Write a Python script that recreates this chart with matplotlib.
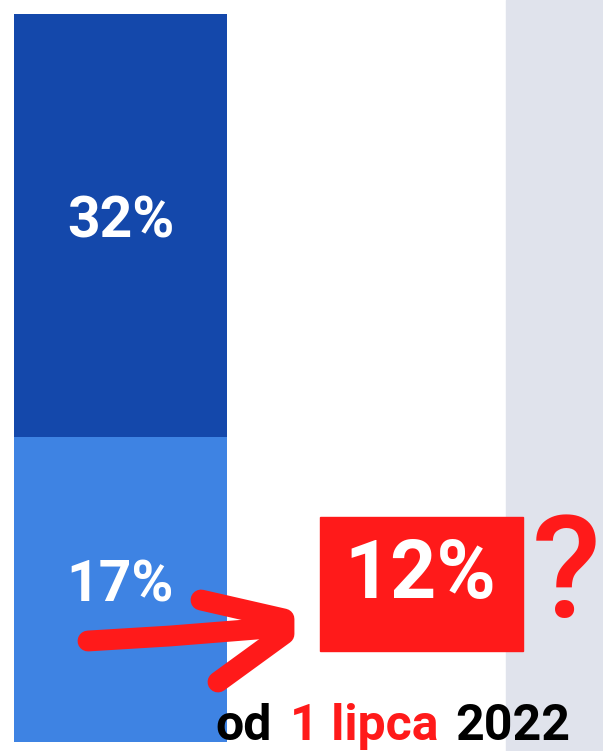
import matplotlib.pyplot as plt
from matplotlib.patches import Rectangle

# bar segments (bottom -> top), heights
segment_heights = [30.5, 42.3]
segment_labels = ['17%', '32%']
segment_colors = ['#3E83E3', '#1448AB']
category = [0]

new_rate = '12%'
caption_parts = ['od', '1 lipca', '2022']

RED = '#FF1A1A'
plt.rcParams['font.family'] = ['Roboto', 'DejaVu Sans']

fig = plt.figure(figsize=(6.03, 7.51), dpi=100)

# bar axes: 1 category unit = 213 px, 1 value unit = 10 px
ax = fig.add_axes([0, 0, 1, 1])
ax.set_xlim(-120.5 / 213, -120.5 / 213 + 603 / 213)
ax.set_ylim(-0.9, -0.9 + 75.1)
ax.axis('off')

# grey neighbour column cut by the right edge
ax.axvspan(1.812, 2.4, color='#E0E3EC', zorder=0)

bottom = 0
for h, lab, col in zip(segment_heights, segment_labels, segment_colors):
    ax.bar(category, [h], bottom=bottom, width=1.0, color=col, zorder=2)
    ax.text(category[0], bottom + h / 2 + 0.3, lab, ha='center', va='center',
            color='white', fontsize=41, fontweight='bold', zorder=3)
    bottom += h

# overlay in pixel coords for the annotations
ov = fig.add_axes([0, 0, 1, 1], zorder=5)
ov.set_xlim(0, 603)
ov.set_ylim(751, 0)
ov.axis('off')
ov.patch.set_alpha(0)

ov.add_patch(Rectangle((320, 517), 203, 134, color=RED, zorder=2))
ov.text(420, 576, new_rate, ha='center', va='center', color='white',
        fontsize=58, fontweight='bold', zorder=3)
ov.text(566, 578, '?', ha='center', va='center', color=RED,
        fontsize=102, fontweight='medium', zorder=3)

# hand drawn arrow
ov.plot([88, 170, 245, 282], [641, 636, 630, 627], color=RED, lw=15,
        solid_capstyle='round', solid_joinstyle='round', zorder=4)
ov.plot([201, 284, 284, 218], [600, 619, 634, 682], color=RED, lw=15,
        solid_capstyle='round', solid_joinstyle='round', zorder=4)

# caption
ov.text(215, 740, caption_parts[0], ha='left', va='baseline', color='black',
        fontsize=36, fontweight='bold', zorder=4)
ov.text(290, 740, caption_parts[1], ha='left', va='baseline', color=RED,
        fontsize=36, fontweight='bold', zorder=4)
ov.text(455, 740, caption_parts[2], ha='left', va='baseline', color='black',
        fontsize=36, fontweight='bold', zorder=4)

fig.savefig('out.png', dpi=100)
